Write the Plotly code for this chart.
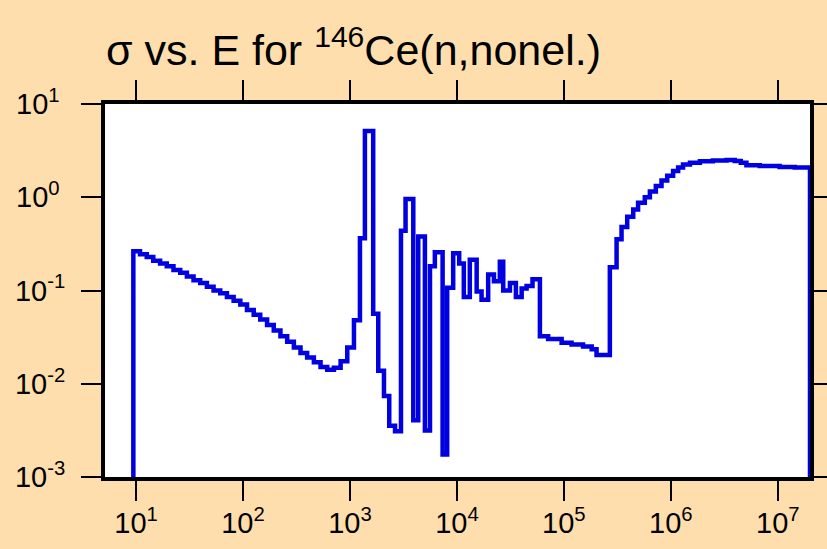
import plotly.graph_objects as go

# Left edges of each energy group (eV); last entry is the upper end of the last group
energy_edges = [
    9.44, 10.9, 12.6, 14.5, 16.8, 19.4, 22.4, 25.9, 29.9, 34.5,
    39.8, 46.0, 53.1, 61.3, 70.8, 81.8, 94.4, 109, 126, 145,
    168, 194, 224, 259, 299, 345, 398, 460, 531, 613,
    708, 818, 944, 1090,
    1240, 1380, 1650, 1840, 2080, 2330, 2640, 3000, 3310, 3910,
    4350, 5020, 5600, 6220, 7350, 8110, 9230, 10500, 11600, 13200,
    15300, 17000, 19600, 22200, 25200, 27100, 31300, 35600, 40300, 44800,
    50900, 59700, 71300, 95300, 118000, 151000, 182000, 202000, 269000, 311000,
    346000, 391000, 445000, 494000, 571000, 637000, 724000, 818000, 925000, 1.05e6,
    1.17e6, 1.30e6, 1.51e6, 1.87e6, 2.47e6, 3.32e6, 3.96e6, 4.51e6, 5.09e6, 6.79e6,
    1.04e7, 1.44e7,
    2.0e7,
]

# Cross section in each group (barns)
sigma_values = [
    0.263, 0.245, 0.229, 0.209, 0.195, 0.182, 0.166, 0.155, 0.141, 0.129,
    0.120, 0.110, 0.100, 0.0933, 0.0851, 0.0776, 0.0708, 0.0617, 0.0550, 0.0490,
    0.0427, 0.0372, 0.0324, 0.0282, 0.0245, 0.0214, 0.0191, 0.0170, 0.0151, 0.0141,
    0.0148, 0.0174, 0.0245, 0.0479,
    0.363, 5.13, 0.0562, 0.0138, 0.00741, 0.00355, 0.00309, 0.437, 0.955, 0.00407,
    0.380, 0.00316, 0.182, 0.257, 0.00174, 0.107, 0.251, 0.195, 0.0851, 0.214,
    0.0977, 0.0794, 0.148, 0.126, 0.204, 0.100, 0.120, 0.0851, 0.105, 0.112,
    0.132, 0.0324, 0.0302, 0.0275, 0.0263, 0.0251, 0.0234, 0.0204, 0.178, 0.355,
    0.479, 0.617, 0.741, 0.871, 1.00, 1.15, 1.32, 1.51, 1.70, 1.91,
    2.09, 2.24, 2.34, 2.43, 2.48, 2.51, 2.45, 2.34, 2.21, 2.16,
    2.11, 2.09,
]

x_tick_vals = [1e1, 1e2, 1e3, 1e4, 1e5, 1e6, 1e7]
x_tick_text = ["10<sup>1</sup>", "10<sup>2</sup>", "10<sup>3</sup>", "10<sup>4</sup>",
               "10<sup>5</sup>", "10<sup>6</sup>", "10<sup>7</sup>"]
y_tick_vals = [1e-3, 1e-2, 1e-1, 1e0, 1e1]
y_tick_text = ["10<sup>-3</sup>", "10<sup>-2</sup>", "10<sup>-1</sup>",
               "10<sup>0\u00a0</sup>", "10<sup>1\u00a0</sup>"]

floor = 1e-4
xs = [energy_edges[0]] + energy_edges[:-1] + [energy_edges[-1], energy_edges[-1]]
ys = [floor] + sigma_values + [sigma_values[-1], floor]

fig = go.Figure()
fig.add_trace(go.Scatter(
    x=xs, y=ys, mode="lines",
    line=dict(shape="hv", color="#0000E0", width=4.5),
    showlegend=False, hoverinfo="skip",
))

font_family = "Liberation Sans, Arial, sans-serif"
axis_common = dict(
    type="log", showgrid=False, zeroline=False, automargin=False,
    showline=True, linewidth=4, linecolor="black", mirror="ticks",
    ticks="outside", ticklen=20, tickwidth=2, tickcolor="black",
    tickfont=dict(family=font_family, size=29, color="black"),
)

fig.update_layout(
    width=827, height=549,
    paper_bgcolor="#FFDEAD", plot_bgcolor="white",
    margin=dict(l=105, r=17, t=104, b=72),
    title=dict(
        text="σ vs. E for <sup>146</sup>Ce(n,nonel.)",
        font=dict(family=font_family, size=43, color="black"),
        xref="container", x=106 / 827, xanchor="left",
        yref="container", y=1 - 50 / 549, yanchor="middle",
        automargin=False,
    ),
    xaxis=dict(range=[0.71, 7.301], tickvals=x_tick_vals, ticktext=x_tick_text,
               ticklabelstandoff=-3, **axis_common),
    yaxis=dict(range=[-3, 1], tickvals=y_tick_vals, ticktext=y_tick_text,
               ticklabelstandoff=10, **axis_common),
)

fig.write_html(
    "out.html",
    config={"displayModeBar": False},
    post_script="document.body.style.margin='0';document.body.style.background='#FFDEAD';",
)
